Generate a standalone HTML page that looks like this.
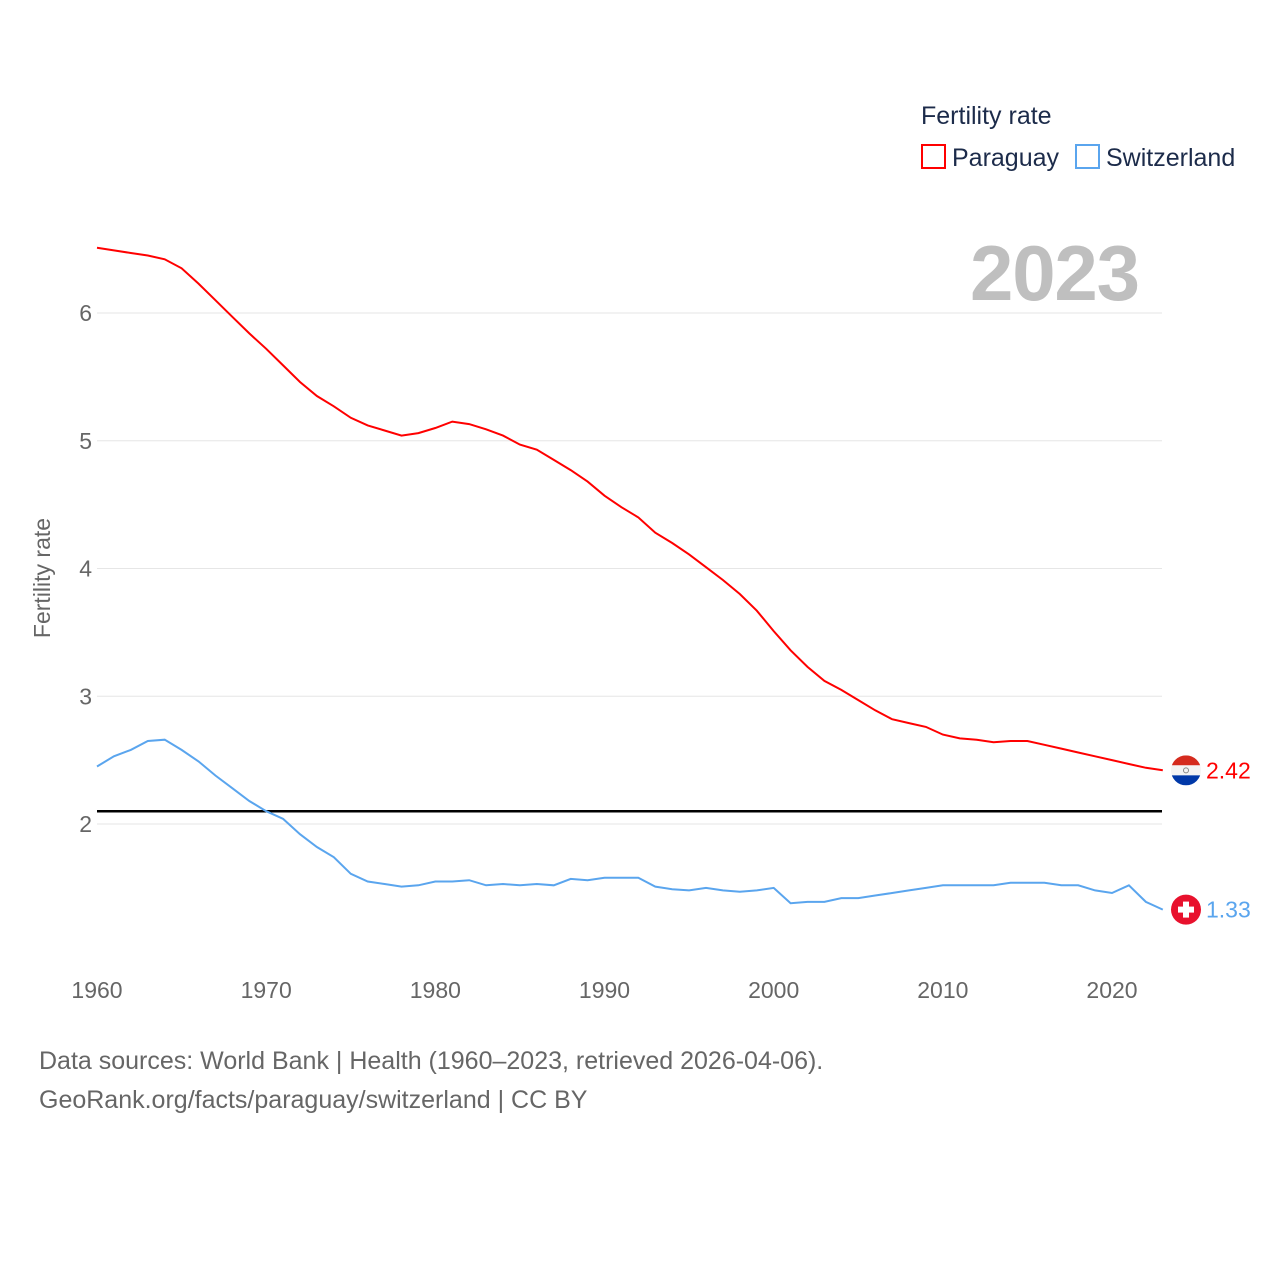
<!DOCTYPE html>
<html><head><meta charset="utf-8">
<style>
html,body{margin:0;padding:0;background:#fff;}
body{width:1280px;height:1280px;overflow:hidden;font-family:"Liberation Sans",sans-serif;}
</style></head>
<body>
<svg id="chart" width="1280" height="1280" xmlns="http://www.w3.org/2000/svg" font-family="Liberation Sans, sans-serif">
<defs><clipPath id="flagclip"><circle id="flagcirc" cx="1186" cy="769" r="15"/></clipPath></defs>
</svg>
<script>
const years = [];
for (let y = 1960; y <= 2023; y++) years.push(y);
const paraguay = [6.51,6.49,6.47,6.45,6.42,6.35,6.23,6.10,5.97,5.84,5.72,5.59,5.46,5.35,5.27,5.18,5.12,5.08,5.04,5.06,5.10,5.15,5.13,5.09,5.04,4.97,4.93,4.85,4.77,4.68,4.57,4.48,4.40,4.28,4.20,4.11,4.01,3.91,3.80,3.67,3.51,3.36,3.23,3.12,3.05,2.97,2.89,2.82,2.79,2.76,2.70,2.67,2.66,2.64,2.65,2.65,2.62,2.59,2.56,2.53,2.50,2.47,2.44,2.42];
const switzerland = [2.45,2.53,2.58,2.65,2.66,2.58,2.49,2.38,2.28,2.18,2.10,2.04,1.92,1.82,1.74,1.61,1.55,1.53,1.51,1.52,1.55,1.55,1.56,1.52,1.53,1.52,1.53,1.52,1.57,1.56,1.58,1.58,1.58,1.51,1.49,1.48,1.50,1.48,1.47,1.48,1.50,1.38,1.39,1.39,1.42,1.42,1.44,1.46,1.48,1.50,1.52,1.52,1.52,1.52,1.54,1.54,1.54,1.52,1.52,1.48,1.46,1.52,1.39,1.33];
const yTicks = [2,3,4,5,6];
const xTicks = [1960,1970,1980,1990,2000,2010,2020];
const replacementRate = 2.1;

const NS = "http://www.w3.org/2000/svg";
const svg = document.getElementById('chart');
const xS = v => 97 + (v - 1960) * 16.917;
const yS = v => 824 - (v - 2) * 127.75;
function mk(tag, attrs, text) {
  const e = document.createElementNS(NS, tag);
  for (const k in attrs) e.setAttribute(k, attrs[k]);
  if (text !== undefined) e.textContent = text;
  svg.appendChild(e);
  return e;
}
yTicks.forEach(t => {
  const g = mk('line', {x1: 97, x2: 1162, y1: yS(t), y2: yS(t), stroke: '#e6e6e6', 'stroke-width': 1});
  
  
  const l = mk('text', {x: 92, y: yS(t) + 8, 'text-anchor': 'end', 'font-size': 23, fill: '#666'}, t);
  
  
});
xTicks.forEach(t => {
  const l = mk('text', {x: xS(t), y: 998, 'text-anchor': 'middle', 'font-size': 23, fill: '#666'}, t);
  
  
});
const yt = mk('text', {x: 0, y: 0, transform: 'translate(50,578) rotate(-90)', 'text-anchor': 'middle', 'font-size': 23, fill: '#666'}, 'Fertility rate');


const yr = mk('text', {x: 1140, y: 300, 'text-anchor': 'end', 'font-size': 78, 'font-weight': 'bold', fill: '#bfbfbf', textLength: 170}, '2023');


const rl = mk('line', {x1: 97, x2: 1162, y1: yS(replacementRate), y2: yS(replacementRate), stroke: '#000', 'stroke-width': 2.5});



function series(vals, color, name) {
  const d = vals.map((v, i) => (i ? 'L' : 'M') + xS(years[i]).toFixed(1) + ',' + yS(v).toFixed(1)).join(' ');
  const p = mk('path', {d: d, fill: 'none', stroke: color, 'stroke-width': 2});
  
  
  const last = vals[vals.length - 1];
  const cy = yS(last);
  if (name === 'paraguay') {
    document.getElementById('flagcirc').setAttribute('cy', cy);
    const a = mk('rect', {x: 1171, y: cy - 15, width: 30, height: 10, fill: '#d52b1e', 'clip-path': 'url(#flagclip)'});
    
    
    const w = mk('rect', {x: 1171, y: cy - 5, width: 30, height: 10, fill: '#f4f4f4', 'clip-path': 'url(#flagclip)'});
    
    
    const b = mk('rect', {x: 1171, y: cy + 5, width: 30, height: 10, fill: '#0038a8', 'clip-path': 'url(#flagclip)'});
    
    
    const e = mk('circle', {cx: 1186, cy: cy, r: 2.5, fill: 'none', stroke: '#888', 'stroke-width': 1});
    
    
  } else {
    const c = mk('circle', {cx: 1186, cy: cy, r: 15, fill: '#e8112d'});
    
    
    const h = mk('rect', {x: 1178, y: cy - 3, width: 16, height: 6, fill: '#fff'});
    
    
    const v = mk('rect', {x: 1183, y: cy - 8, width: 6, height: 16, fill: '#fff'});
    
    
  }
  const t = mk('text', {x: 1206, y: cy + 8, 'font-size': 23, fill: color}, last.toFixed(2));
  
  
}
series(paraguay, '#ff0000', 'paraguay');
series(switzerland, '#5aa5ee', 'switzerland');

const lt = mk('text', {x: 921, y: 124, 'font-size': 25, fill: '#1c2b4a'}, 'Fertility rate');


[[921, '#ff0000', 'Paraguay'], [1075, '#5aa5ee', 'Switzerland']].forEach(([x, c, n]) => {
  const r = mk('rect', {x: x + 1, y: 145, width: 23, height: 23, fill: 'none', stroke: c, 'stroke-width': 2});
  
  
  const t = mk('text', {x: x + 31, y: 166, 'font-size': 25, fill: '#1c2b4a'}, n);
  
  
});
const s1 = mk('text', {x: 39, y: 1069, 'font-size': 25, fill: '#666'}, 'Data sources: World Bank | Health (1960–2023, retrieved 2026-04-06).');


const s2 = mk('text', {x: 39, y: 1108, 'font-size': 25, fill: '#666'}, 'GeoRank.org/facts/paraguay/switzerland | CC BY');


</script>
</body></html>
